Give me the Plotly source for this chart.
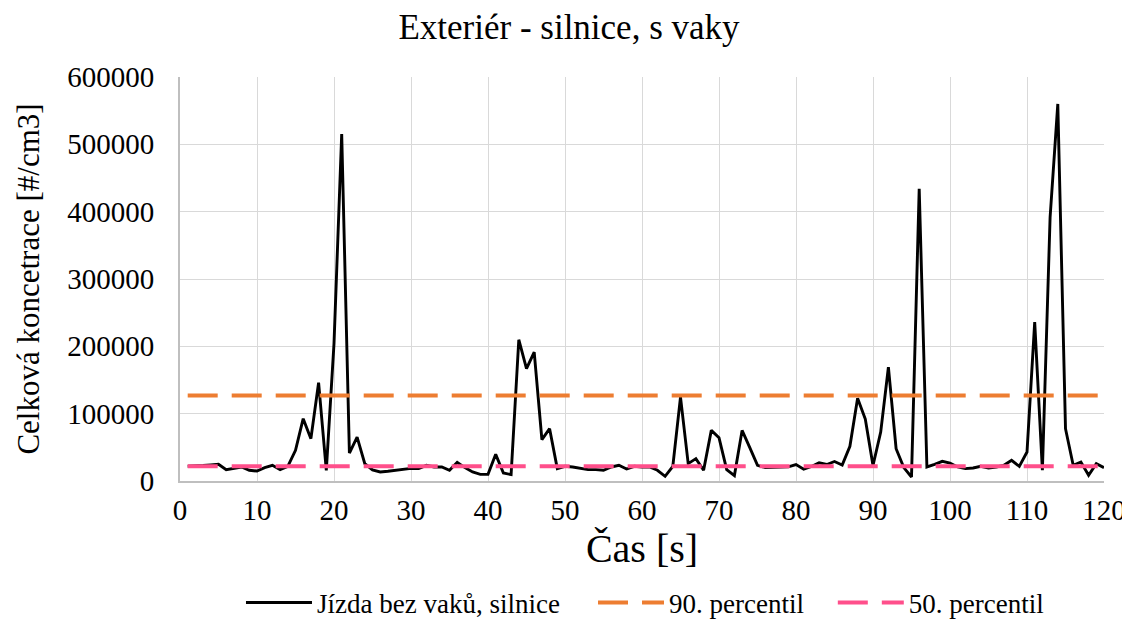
import plotly.graph_objects as go

cas = list(range(1, 121))
jizda = [
    22000, 22000, 23000, 24000, 24800, 16900, 18400, 20800, 15900, 14800,
    19900, 23300, 16900, 21800, 45500, 92600, 62900, 146000, 15900, 204000,
    515400, 41500, 65300, 25800, 16400, 13400, 14400, 15900, 17800, 18800,
    18400, 23300, 20800, 20800, 15900, 27700, 19900, 13400, 9900, 10000,
    39600, 11900, 9500, 209800, 166800, 191400, 61400, 77700, 18400, 21800,
    20800, 19300, 16900, 16900, 15900, 20800, 23300, 17800, 21800, 20800,
    20800, 15900, 7000, 21800, 124600, 25800, 33200, 15900, 75200, 64400,
    16900, 8000, 75200, 49500, 23300, 20000, 20000, 20500, 21000, 24500,
    17500, 21500, 27000, 24500, 29000, 23800, 51500, 123000, 92000, 23000,
    72700, 169000, 48000, 19900, 6000, 433800, 20800, 24800, 29200, 26700,
    20800, 18400, 19300, 21800, 19300, 20800, 23300, 30700, 21800, 43000,
    235900, 15900, 391700, 560000, 77700, 23300, 28200, 8500, 25800, 19900,
]
p90_value = 127000
p50_value = 22000
p90 = [p90_value] * len(cas)
p50 = [p50_value] * len(cas)

x_ticks = list(range(0, 121, 10))
y_ticks = list(range(0, 600001, 100000))

FONT = "Liberation Serif"

fig = go.Figure()
fig.add_trace(go.Scatter(
    x=cas, y=jizda, mode="lines", name="Jízda bez vaků, silnice",
    line=dict(color="#000000", width=2.9), legend="legend"))
fig.add_trace(go.Scatter(
    x=cas, y=p90, mode="lines", name="90. percentil",
    line=dict(color="#ED7D31", width=4, dash="30px,14px"), legend="legend2"))
fig.add_trace(go.Scatter(
    x=cas, y=p50, mode="lines", name="50. percentil",
    line=dict(color="#FF4F8B", width=4, dash="30px,14px"), legend="legend3"))

leg_common = dict(orientation="h", xanchor="left", y=-0.302, yanchor="middle",
                  font=dict(size=27, family=FONT), itemwidth=66,
                  bgcolor="rgba(0,0,0,0)")

fig.update_layout(
    width=1122, height=612,
    paper_bgcolor="white", plot_bgcolor="white",
    margin=dict(l=172, r=26, t=69, b=139, autoexpand=False),
    font=dict(family=FONT, color="#000000", size=29),
    title=dict(text="Exteriér - silnice, s vaky", x=0.5, xanchor="center",
               y=0.969, yanchor="middle", font=dict(size=35, family=FONT)),
    showlegend=True,
    legend=dict(x=0.066, **leg_common),
    legend2=dict(x=0.447, **leg_common),
    legend3=dict(x=0.7065, **leg_common),
)
fig.update_xaxes(
    range=[0, 120], tickvals=x_ticks, showgrid=True, gridcolor="#D9D9D9",
    gridwidth=1, showline=True, linecolor="#BFBFBF", linewidth=2,
    zeroline=False, ticks="", tickfont=dict(size=29, family=FONT),
    ticklabelstandoff=2,
    title=dict(text="Čas [s]", font=dict(size=40, family=FONT), standoff=9))
fig.update_yaxes(
    range=[0, 600000], tickvals=y_ticks, tickformat="d", showgrid=True,
    gridcolor="#D9D9D9", gridwidth=1, showline=True, linecolor="#BFBFBF",
    linewidth=2, zeroline=False, ticks="", tickfont=dict(size=29, family=FONT),
    ticklabelstandoff=18,
    title=dict(text="Celková koncetrace [#/cm3]", font=dict(size=31, family=FONT),
               standoff=18))

fig.write_html("out.html")
